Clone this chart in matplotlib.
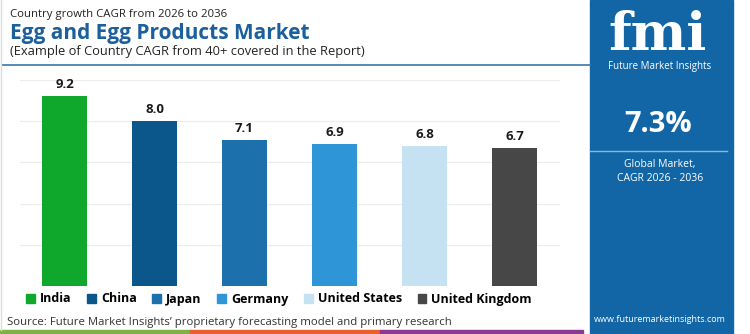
import matplotlib.pyplot as plt
from matplotlib.patches import Rectangle

countries = ["India", "China", "Japan", "Germany", "United States", "United Kingdom"]
cagr = [9.2, 8.0, 7.1, 6.9, 6.8, 6.7]
bar_colors = ["#0fa82d", "#0b578c", "#1c70ab", "#2e95d6", "#c5e2f2", "#474747"]
global_cagr = "7.3%"

W, H = 750, 334
PANEL_BLUE = "#1366a6"
TITLE_BLUE = "#1b5f9c"

plt.rcParams["font.family"] = ["Open Sans", "DejaVu Sans"]

fig = plt.figure(figsize=(7.5, 3.34), dpi=100)


def fx(px):
    return px / W


def fy(py):
    return 1 - py / H


# main chart area
ax = fig.add_axes([fx(19.5), fy(286), fx(559.5) - fx(19.5), fy(80) - fy(286)])
x = range(len(countries))
bars = ax.bar(x, cagr, width=0.5, color=bar_colors, zorder=3)
for b, v in zip(bars, cagr):
    ax.text(b.get_x() + b.get_width() / 2, v + 0.25, f"{v:.1f}", ha="center", va="bottom",
            fontsize=9.5, fontweight="bold", color="#1a1a1a")
ax.set_xlim(-0.5, 5.5)
ax.set_ylim(0, 10)
ax.set_yticks([0, 2, 4, 6, 8, 10])
ax.grid(axis="y", color="#ececec", linewidth=0.8, zorder=0)
ax.tick_params(left=False, bottom=False, labelleft=False, labelbottom=False)
for s in ax.spines.values():
    s.set_visible(False)

# legend
handles = [Rectangle((0, 0), 1, 1, color=c) for c in bar_colors]
fig.legend(handles, countries, loc="center", bbox_to_anchor=(fx(279), fy(299)), ncol=6,
           frameon=False, handlelength=0.7, handleheight=0.7, handletextpad=0.4,
           columnspacing=1.25, prop={"weight": "bold", "size": 9})

# titles
fig.text(fx(10), fy(14), "Country growth CAGR from 2026 to 2036", fontsize=8.2,
         color="#222222", va="center")
fig.text(fx(10), fy(33), "Egg and Egg Products Market", fontsize=15, fontweight="bold",
         color=TITLE_BLUE, va="center")
fig.text(fx(10), fy(51), "(Example of Country CAGR from 40+ covered in the Report)",
         fontsize=9.3, color="#222222", va="center")
fig.add_artist(plt.Line2D([fx(2), fx(590)], [fy(65), fy(65)], color="#3a78ad", lw=1.2))
fig.text(fx(7), fy(322), "Source: Future Market Insights\u2019 proprietary forecasting model and primary research",
         fontsize=8.2, color="#333333", va="center")

# left border and bottom stripes
fig.add_artist(plt.Line2D([fx(0.5), fx(0.5)], [fy(0), fy(330)], color="#dddddd", lw=1))
for x0, x1, c in [(0, 190, "#7cb342"), (190, 380, "#e8602c"), (380, 583, "#8b3a93")]:
    fig.patches.append(Rectangle((fx(x0), 0), fx(x1 - x0), 4 / H, color=c,
                                 transform=fig.transFigure, figure=fig))

# right panel
fig.patches.append(Rectangle((fx(590), 0), fx(143), 1, color=PANEL_BLUE,
                             transform=fig.transFigure, figure=fig))
fig.text(fx(658), fy(36), "fmi", fontsize=38, fontweight="bold", color="white",
         ha="center", va="center", family="DejaVu Serif")
for yy in range(14, 60, 5):
    fig.add_artist(plt.Line2D([fx(598), fx(718)], [fy(yy), fy(yy)], color=PANEL_BLUE, lw=1.2))
fig.text(fx(660), fy(66), "Future Market Insights", fontsize=7, color="white",
         ha="center", va="center")
fig.text(fx(658), fy(125), global_cagr, fontsize=21, fontweight="bold", color="white",
         ha="center", va="center")
fig.add_artist(plt.Line2D([fx(590), fx(727)], [fy(151), fy(151)], color="#8ab8de", lw=1))
fig.text(fx(660), fy(164), "Global Market,", fontsize=7.5, color="white", ha="center", va="center")
fig.text(fx(660), fy(179), "CAGR 2026 - 2036", fontsize=7.5, color="white", ha="center", va="center")
fig.text(fx(660), fy(319), "www.futuremarketinsights.com", fontsize=6.5, color="white",
         ha="center", va="center")

fig.savefig("out.png", dpi=100)
